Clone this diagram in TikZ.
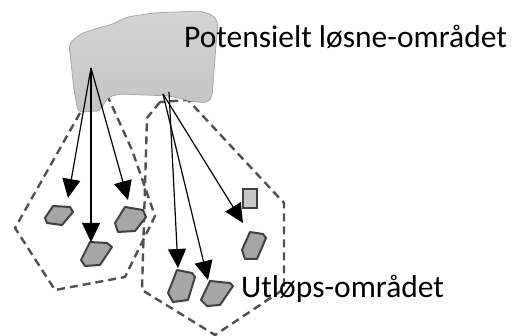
\documentclass[tikz,border=0pt]{standalone}
\usepackage{fontspec}
\setmainfont{Carlito}
\usetikzlibrary{arrows.meta}
\definecolor{dashgray}{HTML}{505050}
\definecolor{rockfill}{HTML}{A6A6A6}
\definecolor{rockline}{HTML}{404040}
\definecolor{arealine}{HTML}{A8A8A8}
\definecolor{areatop}{HTML}{D4D4D4}
\definecolor{areabot}{HTML}{C4C4C4}
\definecolor{boxfill}{HTML}{C8C8C8}
\tikzset{
  zone/.style={draw=dashgray, line width=2.4pt, dash pattern=on 8pt off 5pt, line join=round},
  rock/.style={draw=rockline, fill=rockfill, line width=2pt, line join=round},
  flow/.style={draw=black, line width=1.2pt, -{Triangle[length=19pt,width=18pt]}},
  lbl/.style={font=\fontsize{31.5}{37}\selectfont, inner sep=0pt, anchor=base west}
}
\begin{document}
\begin{tikzpicture}[x=1pt,y=-1pt]
\useasboundingbox (0,0) rectangle (512,336);
% dashed zones (drawn first, top parts hidden under grey area)
\draw[zone] (80,113) -- (15,228) -- (55,290) -- (125,277) -- (155,216) -- (132,150) -- (108,97) -- cycle;
\draw[zone] (160,102) -- (147,118) -- (142,290) -- (215,335) -- (284,289) -- (284,203) -- (188,100) -- cycle;
% release area
\shade[top color=areatop, bottom color=areabot, draw=arealine, line width=0.8pt, rounded corners=4pt]
  (69,44) -- (80,34) -- (95,29) -- (113,24) -- (127,17) -- (153,13) -- (200,11) -- (213,15) -- (218,23)
  -- (216,45) -- (212,97) -- (207,103) -- (190,101) -- (170,96) -- (120,94) -- (108,97) -- (100,111)
  -- (78,112) -- (74,90) -- cycle;
% rocks
\draw[rock] (53,206) -- (70,207) -- (73,212) -- (62,225) -- (47,223) -- (45,218) -- cycle;
\draw[rock] (90,242) -- (107,243) -- (112,247) -- (100,265) -- (85,266) -- (81,260) -- cycle;
\draw[rock] (125,207) -- (143,210) -- (146,217) -- (135,231) -- (118,232) -- (115,223) -- cycle;
\draw[rock] (250,232) -- (263,234) -- (266,238) -- (257,259) -- (245,259) -- (242,250) -- cycle;
\draw[rock] (177,270) -- (192,273) -- (195,277) -- (188,300) -- (173,302) -- (168,293) -- cycle;
\draw[rock] (210,281) -- (230,283) -- (233,286) -- (220,305) -- (207,306) -- (201,300) -- cycle;
\draw[draw=rockline, fill=boxfill, line width=1.4pt] (243,189) rectangle (257,208);
% arrow coordinates
\coordinate (s1) at (91,68);
\coordinate (s2) at (163,94);
\coordinate (s3) at (169,92);
\coordinate (t1) at (68,198);
\coordinate (t2) at (91,242);
\coordinate (t3) at (128,200);
\coordinate (t4) at (178,268);
\coordinate (t5) at (208,280);
\coordinate (t6) at (243,223);
\draw[flow] (s1) -- (t1);
\draw[flow] (s1) -- (t2);
\draw[flow] (s1) -- (t3);
\draw[flow] (s3) -- (t4);
\draw[flow] (s2) -- (t5);
\draw[flow] (s2) -- (t6);
% labels
\node[lbl] (release) at (184,48) {Potensielt løsne-området};
\node[lbl] (runout) at (241,298) {Utløps-området};
\end{tikzpicture}
\end{document}
